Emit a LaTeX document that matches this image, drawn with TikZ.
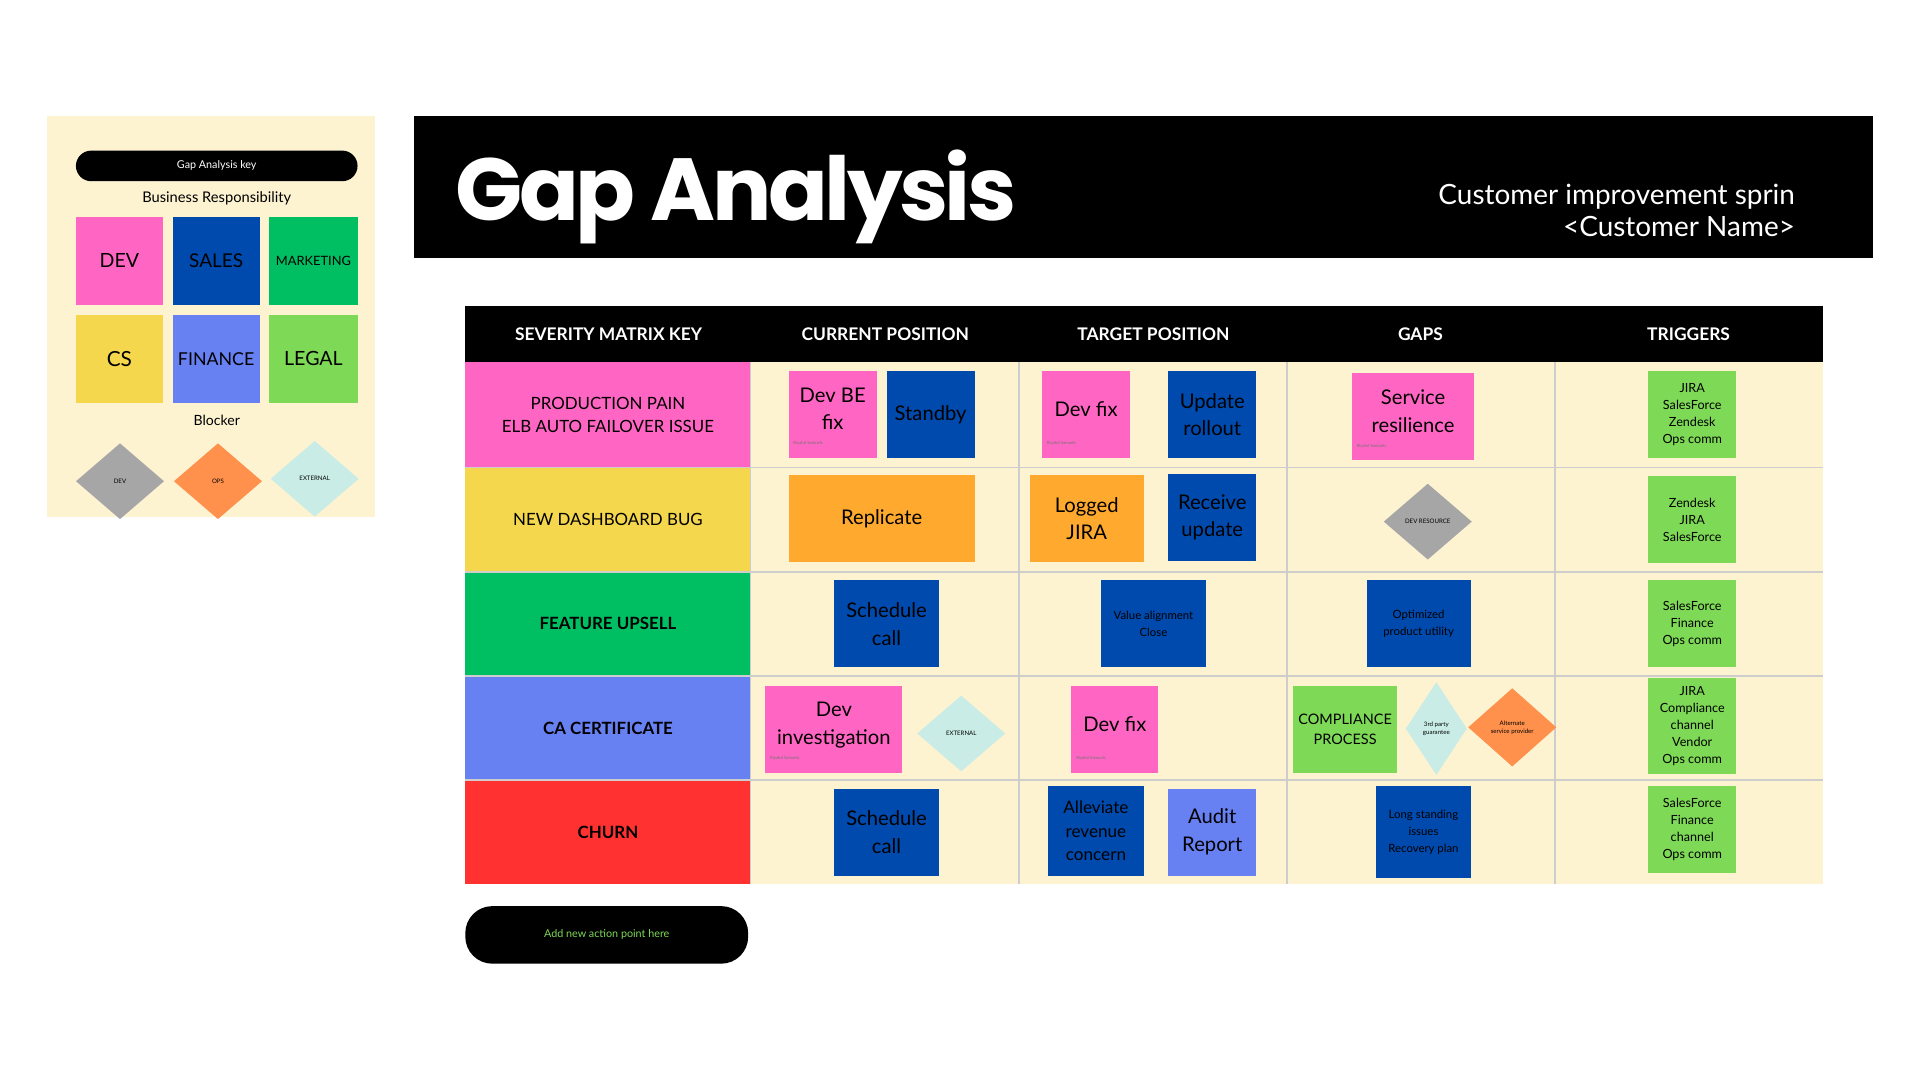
\documentclass[tikz,border=0pt]{standalone}
\usepackage{fontspec}
\setmainfont{Lato}
\newfontfamily\titlefont{Poppins}[LetterSpace=-4]
\usetikzlibrary{shapes.geometric}

\definecolor{devpink}{HTML}{FF66C4}
\definecolor{salesblue}{HTML}{004AAD}
\definecolor{mktgreen}{HTML}{00BF63}
\definecolor{csyellow}{HTML}{F4D74D}
\definecolor{finblue}{HTML}{6881F2}
\definecolor{legalgreen}{HTML}{7ED957}
\definecolor{tanorange}{HTML}{FFAA2E}
\definecolor{opsorange}{HTML}{FF914D}
\definecolor{extmint}{HTML}{C9EDE6}
\definecolor{devgray}{HTML}{A6A6A6}
\definecolor{churnred}{HTML}{FF3131}
\definecolor{cream}{HTML}{FEF3D1}
\definecolor{gridgray}{HTML}{CDCDCD}

\begin{document}
\begin{tikzpicture}[x=1pt,y=-1pt,
    note/.style={inner sep=0pt, align=center, text=black},
    blocker/.style={diamond, inner sep=0pt, align=center, text=black, font=\fontsize{5}{6.5}\selectfont},
    rowkey/.style={inner sep=0pt, align=center, minimum width=233, minimum height=85, font=\fontsize{13.8}{19}\selectfont},
    headtxt/.style={inner sep=0pt, text=white, font=\bfseries\fontsize{14.2}{16}\selectfont},
    trig/.style={note, fill=legalgreen, minimum width=72, font=\fontsize{10.3}{14}\selectfont},
    big/.style={font=\fontsize{16.5}{22.5}\selectfont},
    small/.style={font=\fontsize{9.3}{14}\selectfont},
    owner/.style={inner sep=0pt, anchor=south west, text=black!55, font=\fontsize{3.5}{4}\selectfont},
    gridline/.style={draw=gridgray, line width=1.2pt}]

\useasboundingbox[fill=white] (0,0) rectangle (1568,882);

% key panel
\fill[cream] (38,95) rectangle (306,422);
\node[fill=black, rounded corners=12.5pt, minimum width=230, minimum height=25, inner sep=0pt, text=white, font=\fontsize{8.8}{10}\selectfont] (keytitle) at (177,135.5) {Gap Analysis key};
\node[inner sep=0pt, font=\fontsize{12}{14}\selectfont] (resp) at (177,162) {Business Responsibility};
\node[note, fill=devpink, minimum width=71, minimum height=72, font=\fontsize{16}{18}\selectfont] (kdev) at (97.5,213) {DEV};
\node[note, fill=salesblue, minimum width=71, minimum height=72, font=\fontsize{15.5}{18}\selectfont] (ksales) at (176.5,213) {SALES};
\node[note, fill=mktgreen, minimum width=72, minimum height=72, font=\fontsize{10.5}{12}\selectfont] (kmkt) at (256,213) {MARKETING};
\node[note, fill=csyellow, minimum width=71, minimum height=72, font=\fontsize{17}{19}\selectfont] (kcs) at (97.5,293) {CS};
\node[note, fill=finblue, minimum width=71, minimum height=72, font=\fontsize{14.5}{17}\selectfont] (kfin) at (176.5,293) {FINANCE};
\node[note, fill=legalgreen, minimum width=72, minimum height=72, font=\fontsize{16}{18}\selectfont] (klegal) at (256,293) {LEGAL};
\node[inner sep=0pt, font=\fontsize{11.5}{13}\selectfont] (blockhd) at (177,343) {Blocker};
\node[blocker, fill=devgray, minimum width=72, minimum height=62] (kbdev) at (98,393) {DEV};
\node[blocker, fill=opsorange, minimum width=72, minimum height=62] (kbops) at (178,393) {OPS};
\node[blocker, fill=extmint, minimum width=72, minimum height=62] (kbext) at (257,391) {EXTERNAL};

% title banner
\node[fill=black, minimum width=1192, minimum height=116, inner sep=0pt] (banner) at (934,153) {};
\node[anchor=base west, inner sep=0pt, text=white, font=\titlefont\bfseries\fontsize{72}{80}\selectfont] (title) at (372,180) {Gap Analysis};
\node[anchor=base east, inner sep=0pt, text=white, font=\fontsize{22.8}{26}\selectfont] (sub1) at (1466,167) {Customer improvement sprin};
\node[anchor=base east, inner sep=0pt, text=white, font=\fontsize{22.8}{26}\selectfont] (sub2) at (1466,193) {<Customer Name>};

% table
\fill (380,250) rectangle (1489,296);
\foreach \cx/\txt in {497/SEVERITY MATRIX KEY, 723/CURRENT POSITION, 942/TARGET POSITION, 1160/GAPS, 1379/TRIGGERS}
  \node[headtxt] (head\cx) at (\cx,273) {\txt};
\fill[cream] (613,296) rectangle (1489,722);
\node[rowkey, fill=devpink, minimum height=86] (rpain) at (496.5,339) {PRODUCTION PAIN\\ELB AUTO FAILOVER ISSUE};
\node[rowkey, fill=csyellow] (rbug) at (496.5,424.5) {NEW DASHBOARD BUG};
\node[rowkey, fill=mktgreen, font=\bfseries\fontsize{13.8}{19}\selectfont] (rupsell) at (496.5,509.5) {FEATURE UPSELL};
\node[rowkey, fill=finblue, font=\bfseries\fontsize{13.8}{19}\selectfont] (rcert) at (496.5,594.5) {CA CERTIFICATE};
\node[rowkey, fill=churnred, font=\bfseries\fontsize{13.8}{19}\selectfont] (rchurn) at (496.5,679.5) {CHURN};
\foreach \yy in {382,467,552,637}
  \draw[gridline] (380,\yy) -- (1489,\yy);
\foreach \xx in {613,832,1051,1270}
  \draw[gridline] (\xx,296) -- (\xx,722);

% production pain
\node[note, fill=devpink, minimum width=72, minimum height=71] (devbe) at (680,338.5) {};
\node[note, big] (devbetxt) at (680,334) {Dev BE\\fix};
\node[note, big, fill=salesblue, minimum width=72, minimum height=71] (standby) at (760,338.5) {Standby};
\node[note, fill=devpink, minimum width=72, minimum height=71] (devfixa) at (887,338.5) {};
\node[note, big] (devfixatxt) at (887,334) {Dev fix};
\node[note, big, fill=salesblue, minimum width=72, minimum height=71] (rollout) at (990,338.5) {Update\\rollout};
\node[note, fill=devpink, minimum width=100, minimum height=71] (resil) at (1154,340.5) {};
\node[note, big] (resiltxt) at (1154,336) {Service\\resilience};
\node[trig, minimum height=71] (triga) at (1382,338.5) {JIRA\\SalesForce\\Zendesk\\Ops comm};
\node[owner] (own1) at ([xshift=4pt,yshift=10pt]devbe.south west) {Riyahd Samuels};
\node[owner] (own2) at ([xshift=4pt,yshift=10pt]devfixa.south west) {Riyahd Samuels};
\node[owner] (own3) at ([xshift=4pt,yshift=10pt]resil.south west) {Riyahd Samuels};

% dashboard bug
\node[note, big, fill=tanorange, minimum width=152, minimum height=71] (replic) at (720,423.5) {Replicate};
\node[note, big, fill=tanorange, minimum width=93, minimum height=71] (logged) at (887.5,423.5) {Logged\\JIRA};
\node[note, big, fill=salesblue, minimum width=72, minimum height=71] (receive) at (990,422.5) {Receive\\update};
\node[blocker, fill=devgray, minimum width=72, minimum height=62] (devres) at (1166,426) {DEV RESOURCE};
\node[trig, minimum height=71] (trigb) at (1382,424.5) {Zendesk\\JIRA\\SalesForce};

% feature upsell
\node[note, big, fill=salesblue, minimum width=86, minimum height=71] (scheda) at (724,509.5) {Schedule\\call};
\node[note, small, fill=salesblue, minimum width=86, minimum height=71] (valign) at (942,509.5) {Value alignment\\Close};
\node[note, small, fill=salesblue, minimum width=85, minimum height=71] (optim) at (1158.5,509.5) {Optimized\\product utility};
\node[trig, minimum height=71] (trigc) at (1382,509.5) {SalesForce\\Finance\\Ops comm};

% ca certificate
\node[note, fill=devpink, minimum width=112, minimum height=71] (devinv) at (681,595.5) {};
\node[note, big] (devinvtxt) at (681,592) {Dev\\investigation};
\node[blocker, fill=extmint, minimum width=72, minimum height=62] (exta) at (785,599) {EXTERNAL};
\node[note, fill=devpink, minimum width=71, minimum height=71] (devfixb) at (910.5,595.5) {};
\node[note, big] (devfixbtxt) at (910.5,591) {Dev fix};
\node[note, fill=legalgreen, minimum width=85, minimum height=71, font=\fontsize{11.8}{16}\selectfont] (compl) at (1098.5,595.5) {COMPLIANCE\\PROCESS};
\node[blocker, fill=extmint, minimum width=50, minimum height=76] (thirdp) at (1173,595) {3rd party\\guarantee};
\node[blocker, fill=opsorange, minimum width=72, minimum height=64] (altsp) at (1235,594) {Alternate\\service provider};
\node[trig, minimum height=78] (trigd) at (1382,593) {JIRA\\Compliance\\channel\\Vendor\\Ops comm};
\node[owner] (own4) at ([xshift=4pt,yshift=10pt]devinv.south west) {Riyahd Samuels};
\node[owner] (own5) at ([xshift=4pt,yshift=10pt]devfixb.south west) {Riyahd Samuels};

% churn
\node[note, big, fill=salesblue, minimum width=86, minimum height=71] (schedb) at (724,679.5) {Schedule\\call};
\node[note, fill=salesblue, minimum width=78, minimum height=73, font=\fontsize{14}{19.5}\selectfont] (allev) at (895,678.5) {Alleviate\\revenue\\concern};
\node[note, big, fill=finblue, minimum width=72, minimum height=71] (audit) at (990,679.5) {Audit\\Report};
\node[note, small, fill=salesblue, minimum width=77, minimum height=75] (longst) at (1162.5,679.5) {Long standing\\issues\\Recovery plan};
\node[trig, minimum height=71] (trige) at (1382,677.5) {SalesForce\\Finance\\channel\\Ops comm};

% action button
\node[fill=black, rounded corners=22pt, minimum width=231, minimum height=47, inner sep=0pt, text=legalgreen, font=\fontsize{8.8}{10}\selectfont] (addbtn) at (495.5,763.5) {Add new action point here};
\end{tikzpicture}
\end{document}
